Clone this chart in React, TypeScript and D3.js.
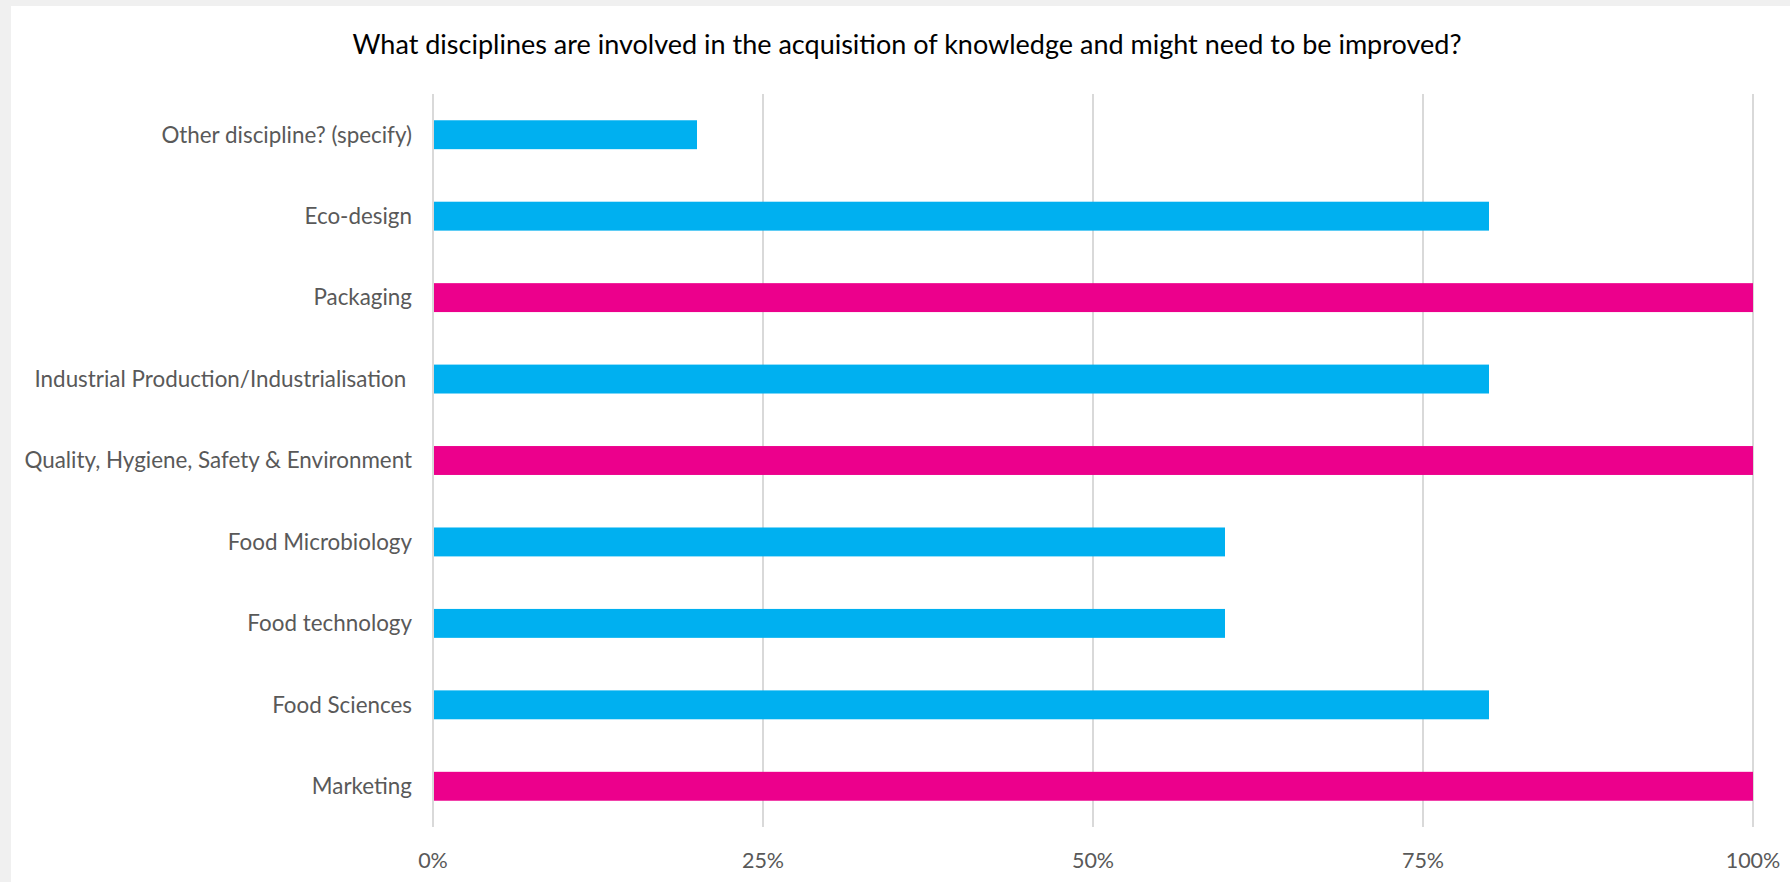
import React from "react";
import * as d3 from "d3";

const categories = [
  "Other discipline? (specify)",
  "Eco-design",
  "Packaging",
  "Industrial Production/Industrialisation ",
  "Quality, Hygiene, Safety & Environment",
  "Food Microbiology",
  "Food technology",
  "Food Sciences",
  "Marketing",
];
const values = [0.2, 0.8, 1.0, 0.8, 1.0, 0.6, 0.6, 0.8, 1.0];
const tickValues = [0, 0.25, 0.5, 0.75, 1.0];
const title = "What disciplines are involved in the acquisition of knowledge and might need to be improved?";

const W = 1790;
const H = 882;
const FONT = "Lato, 'Open Sans', sans-serif";

export default function App() {
  const x = d3.scaleLinear().domain([0, 1]).range([433, 1753]);
  const y = d3.scaleBand().domain(categories).range([94, 827]).paddingInner(0.645).paddingOuter(0.3225);
  const fmt = d3.format(".0%");
  const color = (v: number) => (v >= 1 ? "#EC008C" : "#00B0F0");
  return (
    <svg width={W} height={H} style={{ position: "absolute", left: 0, top: 0 }}>
      <rect x={0} y={0} width={W} height={H} fill="#f0f0f0" />
      <rect x={11} y={6} width={W - 11} height={H - 6} fill="#ffffff" />
      <text x={907} y={54} textAnchor="middle" fontFamily={FONT} fontSize={27} fill="#000">
        {title}
      </text>
      {tickValues.map((t) => (
        <line key={t} x1={x(t)} x2={x(t)} y1={94} y2={827} stroke="#d9d9d9" strokeWidth={2} />
      ))}
      {categories.map((c, i) => (
        <rect key={c} x={x(0) + 1} y={y(c)} width={x(values[i]) - x(0) - 1} height={y.bandwidth()} fill={color(values[i])} />
      ))}
      {categories.map((c) => (
        <text key={c} x={412} y={(y(c) ?? 0) + y.bandwidth() / 2} dy="0.35em" textAnchor="end" fontFamily={FONT} fontSize={22.4} fill="#595959" style={{ whiteSpace: "pre" }}>
          {c}
        </text>
      ))}
      {tickValues.map((t) => (
        <text key={t} x={x(t)} y={860} dy="0.35em" textAnchor="middle" fontFamily={FONT} fontSize={21.5} fill="#595959">
          {fmt(t)}
        </text>
      ))}
    </svg>
  );
}
